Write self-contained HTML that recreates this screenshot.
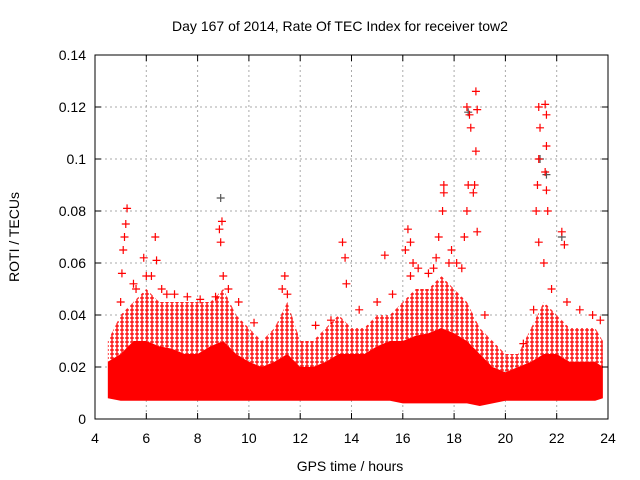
<!DOCTYPE html>
<html><head><meta charset="utf-8"><style>
body{margin:0;background:#fff;}
svg{display:block;font-family:"Liberation Sans",sans-serif;}
</style></head><body>
<svg id="chart" width="640" height="480" viewBox="0 0 640 480">
<defs>
<pattern id="plusPat" width="5" height="4" patternUnits="userSpaceOnUse">
<path d="M0,2H4M2,0V4" stroke="#f00" stroke-width="1.3"/>
</pattern>
</defs>
<text x="340" y="31" font-size="14" text-anchor="middle">Day 167 of 2014, Rate Of TEC Index for receiver tow2</text>
<g id="grid"></g>
<g id="series"></g>
<rect x="95" y="55" width="513" height="364" fill="none" stroke="#000"/>
<g id="axes"></g>
<text x="350" y="471" font-size="14" text-anchor="middle">GPS time / hours</text>
<text x="19" y="237" font-size="14" text-anchor="middle" transform="rotate(-90 19 237)">ROTI / TECUs</text>
</svg>
<script>
const xTicks=[4,6,8,10,12,14,16,18,20,22,24];
const yTicks=[0,0.02,0.04,0.06,0.08,0.1,0.12,0.14];
const yTickLabels=["0","0.02","0.04","0.06","0.08","0.1","0.12","0.14"];
const binTimes=[4.5,5,5.5,6,6.5,7,7.5,8,8.5,9,9.5,10,10.5,11,11.5,12,12.5,13,13.5,14,14.5,15,15.5,16,16.5,17,17.5,18,18.5,19,19.5,20,20.5,21,21.5,22,22.5,23,23.5,23.8];
const lowVals=[0.008,0.007,0.007,0.007,0.007,0.007,0.007,0.007,0.007,0.007,0.007,0.007,0.007,0.007,0.007,0.007,0.007,0.007,0.007,0.007,0.007,0.007,0.007,0.006,0.006,0.006,0.006,0.006,0.006,0.005,0.006,0.007,0.007,0.007,0.007,0.007,0.007,0.007,0.007,0.008];
const coreVals=[0.022,0.025,0.03,0.03,0.028,0.027,0.025,0.025,0.028,0.03,0.025,0.022,0.02,0.022,0.025,0.02,0.02,0.022,0.025,0.025,0.025,0.028,0.03,0.03,0.032,0.033,0.035,0.033,0.03,0.025,0.02,0.018,0.02,0.022,0.025,0.025,0.022,0.022,0.022,0.02];
const sparseVals=[0.03,0.04,0.045,0.05,0.045,0.045,0.045,0.045,0.045,0.05,0.04,0.035,0.03,0.035,0.045,0.03,0.03,0.035,0.04,0.035,0.035,0.04,0.04,0.045,0.05,0.05,0.055,0.05,0.045,0.035,0.03,0.025,0.025,0.035,0.045,0.04,0.035,0.035,0.035,0.03];
const outT=[5.25,5.2,5.15,5.1,5.05,6.35,6.4,5.9,8.95,8.85,8.9,11.4,13.65,13.75,13.8,15.3,16.2,16.3,16.4,17.4,17.6,17.6,17.55,18.5,18.6,18.65,18.55,18.5,18.4,18.85,18.9,18.85,18.8,18.75,18.9,21.3,21.35,21.3,21.25,21.2,21.3,21.55,21.6,21.6,21.55,21.6,21.65,21.5,22.2,22.3,16.1,17.3,5.5,6.2,11.3,17.9,18.1,
 5.0,5.6,6.0,6.6,7.1,7.6,8.1,8.7,9.2,9.6,10.2,11.5,12.6,13.2,14.3,15.0,15.6,16.6,17.0,17.8,18.3,19.2,20.7,21.1,21.8,22.4,22.9,23.4,23.7,16.3,17.2,9.0,6.8];
const outV=[0.081,0.075,0.07,0.065,0.056,0.07,0.061,0.062,0.076,0.073,0.068,0.055,0.068,0.062,0.052,0.063,0.073,0.068,0.06,0.07,0.09,0.087,0.08,0.12,0.117,0.112,0.09,0.08,0.07,0.126,0.119,0.103,0.09,0.087,0.072,0.12,0.112,0.1,0.09,0.08,0.068,0.121,0.117,0.105,0.095,0.088,0.08,0.06,0.072,0.067,0.065,0.062,0.052,0.055,0.05,0.065,0.06,
 0.045,0.05,0.055,0.05,0.048,0.047,0.046,0.047,0.05,0.045,0.037,0.048,0.036,0.038,0.042,0.045,0.048,0.058,0.056,0.06,0.058,0.04,0.029,0.042,0.05,0.045,0.042,0.04,0.038,0.055,0.058,0.055,0.048];
const darkT=[8.9,18.55,21.35,21.6,22.2];
const darkV=[0.085,0.118,0.1,0.094,0.07];

const NS="http://www.w3.org/2000/svg";
const X=t=>95+(t-4)/20*513;
const Y=v=>419-v/0.14*364;
function mk(tag,attrs,parent){const e=document.createElementNS(NS,tag);for(const k in attrs)e.setAttribute(k,attrs[k]);parent.appendChild(e);return e;}
const grid=document.getElementById('grid'),axes=document.getElementById('axes'),series=document.getElementById('series');
xTicks.forEach((t,i)=>{
 if(i>0&&i<xTicks.length-1){const g=mk('line',{x1:X(t),x2:X(t),y1:55,y2:419,stroke:'#aaa','stroke-dasharray':'2,3'},grid);
 }
 const a=mk('line',{x1:X(t),x2:X(t),y1:419,y2:413,stroke:'#000'},axes);
 const b=mk('line',{x1:X(t),x2:X(t),y1:55,y2:61,stroke:'#000'},axes);
 const l=mk('text',{x:X(t),y:443,'font-size':14,'text-anchor':'middle'},axes);l.textContent=String(t);
 
});
yTicks.forEach((v,i)=>{
 if(i>0&&i<yTicks.length-1){const g=mk('line',{x1:95,x2:608,y1:Y(v),y2:Y(v),stroke:'#aaa','stroke-dasharray':'2,3'},grid);
 }
 const a=mk('line',{x1:95,x2:101,y1:Y(v),y2:Y(v),stroke:'#000'},axes);
 const b=mk('line',{x1:602,x2:608,y1:Y(v),y2:Y(v),stroke:'#000'},axes);
 const l=mk('text',{x:86,y:Y(v)+5,'font-size':14,'text-anchor':'end'},axes);l.textContent=yTickLabels[i];
 
});
function band(top,bot,fill,name){
 let d='M'+binTimes.map((t,i)=>X(t)+','+Y(top[i])).join('L');
 for(let i=binTimes.length-1;i>=0;i--)d+='L'+X(binTimes[i])+','+Y(bot[i]);
 const p=mk('path',{d:d+'Z',fill:fill},series);
 
}
band(sparseVals,coreVals,'url(#plusPat)','sparse-point-band');
band(coreVals,lowVals,'#f00','dense-point-band');
function plus(t,v,c,name){
 const p=mk('path',{d:`M${X(t)-4},${Y(v)}h8M${X(t)},${Y(v)-4}v8`,stroke:c,'stroke-width':1.2},series);
 
}
darkT.forEach((t,i)=>plus(t,darkV[i],'#555','dark-point'));
outT.forEach((t,i)=>plus(t,outV[i],'#f00','outlier-point'));
</script>
</body></html>
